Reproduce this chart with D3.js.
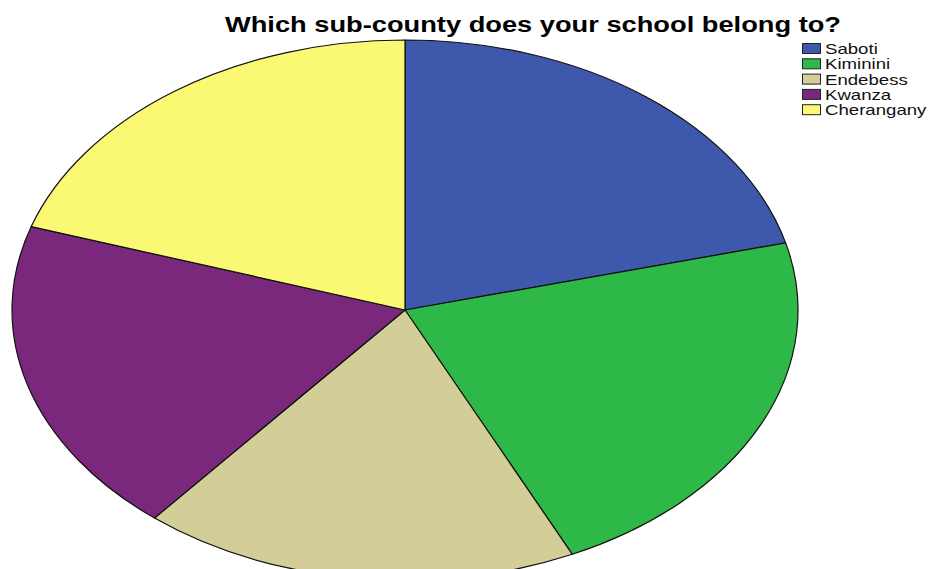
<!DOCTYPE html>
<html>
<head>
<meta charset="utf-8">
<script src="https://cdn.jsdelivr.net/npm/d3@7"></script>
<style>
  html, body { margin: 0; padding: 0; background: #fff; }
  svg { display: block; }
</style>
</head>
<body>
<svg id="chart" width="929" height="569"></svg>
<script>
// Sub-county breakdown of responding schools
const categories = ["Saboti", "Kiminini", "Endebess", "Kwanza", "Cherangany"];
const counts = [21, 22, 18, 19, 20];
const colors = ["#3e58ac", "#2eb848", "#d3ce97", "#7a287b", "#fbf873"];
const titleText = "Which sub-county does your school belong to?";

const svg = d3.select("#chart");

// Elliptical pie: drawn as a circle, then stretched horizontally
const cx = 405, cy = 310, rx = 393, ry = 270;

const pie = d3.pie().sort(null).value(d => d.value).startAngle(0).endAngle(2 * Math.PI);
const arc = d3.arc().innerRadius(0).outerRadius(ry);
const data = categories.map((c, i) => ({ name: c, value: counts[i], color: colors[i] }));

const g = svg.append("g")
  .attr("transform", `translate(${cx},${cy}) scale(${rx / ry},1)`);

g.selectAll("path")
  .data(pie(data))
  .join("path")
  .attr("d", arc)
  .attr("fill", d => d.data.color)
  .attr("stroke", "#111")
  .attr("stroke-width", 1.2)
  .attr("stroke-linejoin", "round")
  .attr("vector-effect", "non-scaling-stroke");

// Title
svg.append("text")
  .attr("x", 225)
  .attr("y", 32)
  .attr("textLength", 616)
  .attr("lengthAdjust", "spacingAndGlyphs")
  .style("font-family", "'Liberation Sans', Arial, sans-serif")
  .style("font-weight", "bold")
  .style("font-size", "22px")
  .attr("fill", "#000")
  .text(titleText);

// Legend (labels are widened like the rest of the stretched chart)
const legend = svg.append("g").attr("transform", "translate(802,43)");
const step = 15.3;
const textStretch = 1.33;

const items = legend.selectAll("g.item")
  .data(data)
  .join("g")
  .attr("class", "item")
  .attr("transform", (d, i) => `translate(0,${i * step})`);

items.append("rect")
  .attr("x", 0.5).attr("y", 0.5)
  .attr("width", 18).attr("height", 10)
  .attr("fill", d => d.color)
  .attr("stroke", "#222")
  .attr("stroke-width", 1);

items.append("text")
  .attr("transform", `translate(23,11) scale(${textStretch},1)`)
  .style("font-family", "'Liberation Sans', Arial, sans-serif")
  .style("font-size", "14px")
  .attr("fill", "#111")
  .text(d => d.name);
</script>
</body>
</html>
